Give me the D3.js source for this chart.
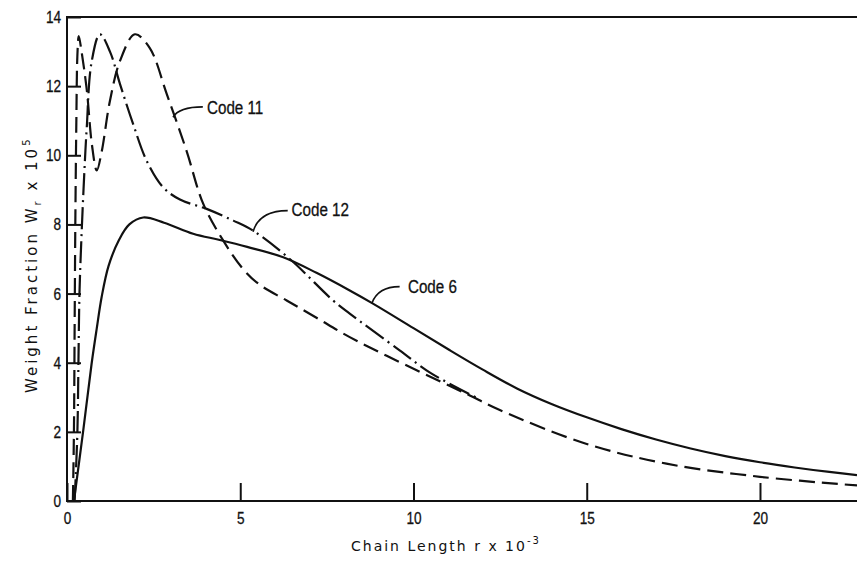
<!DOCTYPE html>
<html>
<head>
<meta charset="utf-8">
<script src="https://cdn.jsdelivr.net/npm/d3@7"></script>
<style>
  html, body { margin: 0; padding: 0; background: #fff; }
  svg { display: block; }
  .tick text { font-family: "Liberation Sans", sans-serif; font-size: 17px; fill: #111; stroke: #111; stroke-width: 0.3; }
  .tick line { stroke: #111; stroke-width: 2; }
  .lbl { font-family: "Liberation Sans", sans-serif; font-size: 19px; fill: #111; stroke: #111; stroke-width: 0.3; }
  .ttl { font-family: "DejaVu Sans", sans-serif; font-size: 14px; fill: #111; letter-spacing: 2px; }
</style>
</head>
<body>
<script>
/*--- data ---*/
// chain length r x 10^-3  /  weight fraction Wr x 10^5
let code6R  = [0.2, 0.47, 0.71, 0.86, 1.0, 1.2, 1.5, 1.8, 2.2, 2.8, 3.64, 4.41, 5.2, 6.24, 7.2, 8.16, 8.83, 10.0, 11.05, 12, 13, 14, 15, 16, 17, 18, 19, 20, 21, 22, 22.8];
let code6W  = [0, 2.05, 3.97, 5.0, 5.9, 6.8, 7.55, 8.0, 8.2, 8.05, 7.73, 7.55, 7.35, 7.05, 6.6, 6.09, 5.71, 5.0, 4.36, 3.8, 3.25, 2.8, 2.42, 2.08, 1.78, 1.52, 1.3, 1.12, 0.97, 0.84, 0.75];

let code11R = [0.17, 0.2, 0.22, 0.24, 0.27, 0.3, 0.34, 0.42, 0.57, 0.72, 0.86, 1.0, 1.24, 1.53, 1.96, 2.39, 2.88, 3.45, 3.93, 4.51, 5.09, 5.57, 6.34, 7.2, 8.16, 10.09, 11.53, 12.49, 15, 17.3, 20, 22.8];
let code11W = [0, 2, 5, 8, 11, 12.9, 13.45, 13.0, 11.9, 10.3, 9.56, 10.1, 11.58, 12.73, 13.5, 13.1, 11.77, 10.13, 8.6, 7.53, 6.7, 6.25, 5.8, 5.3, 4.74, 3.78, 3.1, 2.63, 1.65, 1.08, 0.7, 0.45];

let code12R = [0.22, 0.3, 0.33, 0.36, 0.42, 0.5, 0.57, 0.71, 0.95, 1.24, 1.53, 1.91, 2.3, 2.78, 3.26, 4.03, 4.8, 5.37, 6.43, 7.68, 8.16, 9.6, 10.5, 11.8];
let code12W = [0, 2, 4, 6, 7.7, 9.5, 10.8, 12.7, 13.5, 13.0, 12.06, 10.9, 9.84, 9.07, 8.72, 8.45, 8.11, 7.82, 7.0, 5.8, 5.42, 4.36, 3.7, 3.0];

let xTicks = [0, 5, 10, 15, 20];
let yTicks = [0, 2, 4, 6, 8, 10, 12, 14];

/*--- layout ---*/
let W = 857, H = 563;
let margin = {left: 67, top: 17, bottom: 501};
let narrow = 0.8;   // no condensed face installed, squeeze by hand

let X = d3.scaleLinear().domain([0, 22.8]).range([margin.left, W]);
let Y = d3.scaleLinear().domain([0, 14]).range([margin.bottom, margin.top]);

let svg = d3.select("body").append("svg")
    .attr("width", W)
    .attr("height", H);

// axes, ticks pointing inward
let yEje = d3.axisLeft(Y).tickValues(yTicks).tickSize(-14).tickPadding(6);
let xEje = d3.axisBottom(X).tickValues(xTicks).tickSize(-18).tickPadding(11);

svg.append("g")
    .attr("transform", "translate(" + margin.left + ",0)")
    .call(yEje)
    .call(g => g.select(".domain").remove())
    .call(g => g.selectAll(".tick text")
        .attr("x", -6 / narrow)
        .attr("transform", "scale(" + narrow + ",1)"));

svg.append("g")
    .attr("transform", "translate(0," + margin.bottom + ")")
    .call(xEje)
    .call(g => g.select(".domain").remove())
    .call(g => g.selectAll(".tick text")
        .attr("transform", "scale(" + narrow + ",1)"));

// frame: left, top, bottom
svg.append("path")
    .attr("fill", "none")
    .attr("stroke", "#111")
    .attr("stroke-width", 2)
    .attr("d", "M" + W + "," + margin.top + "H" + margin.left + "V" + margin.bottom + "H" + W);

/*--- curves ---*/
let linea = d3.line()
    .x(d => X(d[0]))
    .y(d => Y(d[1]))
    .curve(d3.curveCatmullRom.alpha(0.5));

let series = [
    {r: code6R,  w: code6W,  dash: null},
    {r: code11R, w: code11W, dash: "16,7"},
    {r: code12R, w: code12W, dash: "22,5,2,5"}
];

series.forEach(function(s) {
    svg.append("path")
        .datum(d3.zip(s.r, s.w))
        .attr("fill", "none")
        .attr("stroke", "#111")
        .attr("stroke-width", 2.2)
        .attr("stroke-dasharray", s.dash)
        .attr("stroke-linejoin", "round")
        .attr("d", linea);
});

/*--- labels with leaders (data units) ---*/
let notas = [
    {text: "Code 11", from: [3.06, 11.1], to: [3.92, 11.4], at: [4.04, 11.2]},
    {text: "Code 12", from: [5.37, 7.79], to: [6.37, 8.4], at: [6.48, 8.25]},
    {text: "Code 6",  from: [8.8, 5.72],  to: [9.6, 6.2],  at: [9.84, 6.03]}
];

notas.forEach(function(n) {
    let x0 = X(n.from[0]), y0 = Y(n.from[1]);
    let x1 = X(n.to[0]), y1 = Y(n.to[1]);
    svg.append("path")
        .attr("fill", "none")
        .attr("stroke", "#111")
        .attr("stroke-width", 1.6)
        .attr("d", "M" + x0 + "," + y0 + "Q" + (x0 + 6) + "," + y1 + " " + x1 + "," + y1);
    svg.append("text")
        .attr("class", "lbl")
        .attr("transform", "translate(" + X(n.at[0]) + "," + Y(n.at[1]) + ") scale(" + narrow + ",1)")
        .text(n.text);
});

/*--- axis titles ---*/
let xt = svg.append("text")
    .attr("class", "ttl")
    .attr("x", 351)
    .attr("y", 551);
xt.append("tspan").text("Chain Length r x 10");
xt.append("tspan").attr("dy", -7).style("font-size", "10px").text("-3");

let yt = svg.append("text")
    .attr("class", "ttl")
    .style("font-size", "15px")
    .style("letter-spacing", "3px")
    .attr("transform", "translate(37,393) rotate(-90)");
yt.append("tspan").text("Weight Fraction W");
yt.append("tspan").attr("dy", 4).style("font-size", "10px").text("r");
yt.append("tspan").attr("dy", -4).text(" x 10");
yt.append("tspan").attr("dy", -7).style("font-size", "10px").text("5");
</script>
</body>
</html>
